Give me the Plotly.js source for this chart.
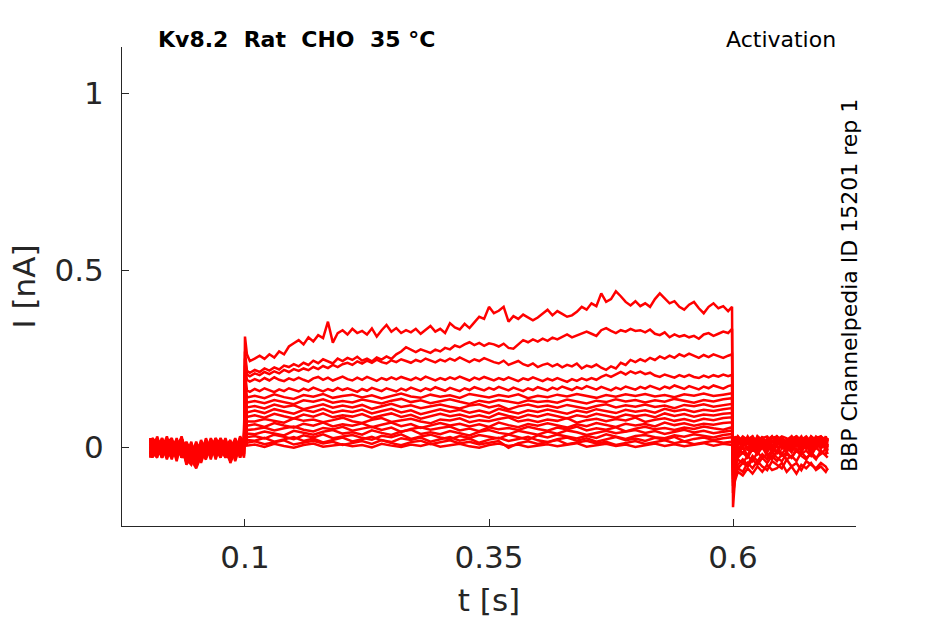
<!DOCTYPE html>
<html>
<head>
<meta charset="utf-8">
<script src="https://cdn.plot.ly/plotly-3.0.1.min.js"></script>
<style>
  body { margin: 0; background: #fff; }
  #chart { width: 945px; height: 624px; }
</style>
</head>
<body>
<div id="chart"></div>
<script>
// time points [s]: holding before the step, the step itself, and the tail after it
const tPre = [0.003, 0.005, 0.01, 0.015, 0.02, 0.025, 0.03, 0.035, 0.04, 0.045, 0.05,
  0.055, 0.06, 0.065, 0.07, 0.075, 0.08, 0.085, 0.09, 0.095, 0.099];
// the five largest sweeps are read at a finer spacing
const tStepFine = [0.1, 0.102,
  0.105, 0.11, 0.115, 0.12, 0.125, 0.13, 0.135, 0.14, 0.145, 0.15,
  0.155, 0.16, 0.165, 0.17, 0.175, 0.18, 0.185, 0.19, 0.195, 0.2,
  0.205, 0.21, 0.215, 0.22, 0.225, 0.23, 0.235, 0.24, 0.245, 0.25,
  0.255, 0.26, 0.265, 0.27, 0.275, 0.28, 0.285, 0.29, 0.295, 0.3,
  0.305, 0.31, 0.315, 0.32, 0.325, 0.33, 0.335, 0.34, 0.345, 0.35,
  0.355, 0.36, 0.365, 0.37, 0.375, 0.38, 0.385, 0.39, 0.395, 0.4,
  0.405, 0.41, 0.415, 0.42, 0.425, 0.43, 0.435, 0.44, 0.445, 0.45,
  0.455, 0.46, 0.465, 0.47, 0.475, 0.48, 0.485, 0.49, 0.495, 0.5,
  0.505, 0.51, 0.515, 0.52, 0.525, 0.53, 0.535, 0.54, 0.545, 0.55,
  0.555, 0.56, 0.565, 0.57, 0.575, 0.58, 0.585, 0.59, 0.595, 0.599];
const tStep = [0.1, 0.102,
  0.11, 0.12, 0.13, 0.14, 0.15, 0.16, 0.17, 0.18, 0.19, 0.2,
  0.21, 0.22, 0.23, 0.24, 0.25, 0.26, 0.27, 0.28, 0.29, 0.3,
  0.31, 0.32, 0.33, 0.34, 0.35, 0.36, 0.37, 0.38, 0.39, 0.4,
  0.41, 0.42, 0.43, 0.44, 0.45, 0.46, 0.47, 0.48, 0.49, 0.5,
  0.51, 0.52, 0.53, 0.54, 0.55, 0.56, 0.57, 0.58, 0.59, 0.599];
const tPost = [0.6, 0.602, 0.605, 0.61, 0.615, 0.62, 0.625, 0.63, 0.635, 0.64, 0.645,
  0.65, 0.655, 0.66, 0.665, 0.67, 0.675, 0.68, 0.685, 0.69, 0.695, 0.697];

// current [nA] before the step, one row per sweep
const iPre = [
  [0.02, -0.01, 0.025, -0.02, 0.015, -0.025, 0.02, -0.015, -0.03, 0.01, -0.02, 0.015, -0.025, 0.02, -0.01, 0.025, -0.02, 0.01, -0.03, 0.02, 0.005],
  [-0.015, 0.025, -0.02, 0.01, -0.03, 0.02, -0.01, 0.025, -0.02, -0.04, 0.005, -0.03, 0.015, -0.02, 0.025, -0.015, 0.02, -0.035, 0.015, -0.02, 0.01],
  [0.025, -0.025, 0.01, 0.02, -0.015, 0.005, -0.03, 0.015, -0.045, -0.01, -0.055, -0.02, 0.01, -0.03, 0.01, 0.02, -0.025, 0.005, 0.015, -0.03, 0.02],
  [-0.03, 0.015, -0.005, -0.025, 0.025, -0.01, 0.02, -0.03, 0.0, -0.025, 0.01, -0.015, -0.035, 0.015, -0.025, 0.005, 0.02, -0.045, -0.01, 0.025, -0.02],
  [0.01, -0.03, 0.02, -0.005, 0.03, -0.02, 0.005, 0.025, -0.025, 0.005, -0.03, 0.0, -0.02, 0.025, -0.005, -0.03, 0.015, -0.01, 0.025, -0.01, 0.015],
  [-0.005, 0.02, -0.025, 0.025, -0.01, -0.03, 0.01, -0.02, -0.035, -0.05, -0.015, -0.04, 0.005, -0.01, 0.02, -0.025, 0.0, 0.02, -0.03, 0.01, -0.005],
  [0.015, -0.02, 0.0, -0.03, 0.01, 0.025, -0.02, 0.005, -0.01, -0.035, -0.06, -0.025, -0.01, 0.02, -0.03, 0.01, -0.015, -0.03, 0.02, -0.025, 0.0],
  [-0.02, 0.005, 0.025, -0.01, -0.025, 0.015, -0.035, 0.02, 0.0, -0.02, 0.01, -0.045, 0.0, -0.025, 0.01, -0.01, 0.025, -0.02, 0.005, 0.015, -0.03],
  [0.025, -0.015, -0.03, 0.015, 0.0, -0.02, 0.025, -0.025, 0.01, -0.03, -0.005, 0.01, -0.03, -0.005, 0.02, -0.03, 0.01, -0.005, -0.025, 0.025, -0.01],
  [-0.025, 0.02, -0.01, 0.005, -0.035, 0.01, -0.005, -0.025, 0.015, -0.015, -0.035, 0.02, -0.015, 0.01, -0.025, 0.02, -0.03, 0.015, -0.005, -0.02, 0.02],
  [0.005, -0.03, 0.03, -0.015, 0.01, -0.03, 0.015, -0.01, -0.04, 0.0, -0.025, -0.01, 0.02, -0.02, 0.005, 0.015, -0.015, -0.04, 0.01, 0.0, -0.025],
  [-0.01, 0.01, -0.02, 0.02, -0.02, 0.005, -0.015, 0.03, -0.02, -0.03, 0.015, -0.02, -0.025, 0.005, -0.02, 0.025, -0.005, 0.015, -0.02, 0.03, 0.01],
  [0.0, -0.02, 0.015, -0.03, 0.02, -0.005, -0.025, 0.01, -0.05, -0.025, -0.04, 0.005, -0.03, 0.02, -0.01, -0.02, 0.02, -0.025, 0.0, -0.015, 0.025],
  [0.02, 0.0, -0.025, 0.01, 0.02, -0.015, 0.01, -0.03, 0.005, -0.02, 0.0, -0.035, 0.015, -0.005, 0.025, -0.02, -0.01, 0.01, -0.04, 0.005, -0.02],
  [-0.03, 0.015, 0.005, -0.02, -0.005, 0.02, -0.03, 0.0, -0.025, 0.015, -0.045, -0.005, -0.015, 0.01, -0.03, 0.015, 0.005, -0.03, 0.02, -0.01, 0.0],
  [0.01, -0.01, -0.025, 0.025, -0.02, 0.0, 0.02, -0.02, -0.01, -0.045, 0.005, -0.02, 0.01, -0.035, 0.025, -0.005, -0.03, 0.005, 0.015, -0.025, 0.025],
  [-0.02, 0.025, 0.01, -0.03, 0.005, -0.035, 0.015, -0.01, -0.03, 0.005, -0.02, -0.03, 0.025, -0.01, -0.02, 0.0, 0.015, -0.035, -0.015, 0.02, -0.015],
  [0.025, -0.025, 0.0, 0.015, -0.025, 0.01, -0.04, 0.025, -0.015, -0.03, -0.01, 0.005, -0.02, 0.015, -0.035, 0.02, -0.01, 0.0, 0.02, -0.03, 0.015]
];

// current [nA] during the step for the five largest sweeps (on tStepFine)
const iStepTop = [
  [0.312, 0.262,
   0.243, 0.25, 0.258, 0.249, 0.262, 0.253, 0.27, 0.262, 0.284, 0.293,
   0.302, 0.29, 0.31, 0.298, 0.316, 0.308, 0.354, 0.295, 0.322, 0.33,
   0.318, 0.334, 0.322, 0.328, 0.318, 0.335, 0.312, 0.33, 0.345, 0.326,
   0.336, 0.322, 0.33, 0.324, 0.334, 0.32, 0.332, 0.342, 0.326, 0.334,
   0.322, 0.35, 0.338, 0.332, 0.348, 0.336, 0.352, 0.368, 0.362, 0.396,
   0.378, 0.385, 0.396, 0.354, 0.37, 0.362, 0.374, 0.366, 0.358, 0.366,
   0.378, 0.388, 0.372, 0.384, 0.376, 0.368, 0.372, 0.382, 0.396, 0.388,
   0.406, 0.398, 0.434, 0.41, 0.418, 0.44, 0.426, 0.41, 0.4, 0.412,
   0.398, 0.406, 0.396, 0.418, 0.434, 0.42, 0.406, 0.412, 0.396, 0.388,
   0.402, 0.41, 0.392, 0.378, 0.396, 0.406, 0.392, 0.398, 0.384, 0.396],
  [0.27, 0.215,
   0.21, 0.218, 0.212, 0.222, 0.216, 0.225, 0.219, 0.23, 0.226, 0.234,
   0.228, 0.238, 0.232, 0.244, 0.237, 0.248, 0.241, 0.236, 0.25, 0.243,
   0.252, 0.246, 0.255, 0.244, 0.25, 0.242, 0.253, 0.247, 0.256, 0.249,
   0.262, 0.27, 0.282, 0.274, 0.268, 0.276, 0.27, 0.266, 0.275, 0.27,
   0.28, 0.276, 0.287, 0.282, 0.29, 0.296, 0.288, 0.294, 0.286, 0.293,
   0.29, 0.284, 0.292, 0.28, 0.278, 0.29, 0.302, 0.296, 0.304, 0.298,
   0.306, 0.3, 0.309, 0.304, 0.312, 0.318, 0.31, 0.316, 0.322, 0.326,
   0.32, 0.314, 0.33, 0.336, 0.328, 0.322, 0.33, 0.326, 0.334, 0.328,
   0.33, 0.324, 0.332, 0.32, 0.316, 0.324, 0.31, 0.318, 0.312, 0.316,
   0.31, 0.314, 0.306, 0.318, 0.322, 0.314, 0.32, 0.326, 0.322, 0.334],
  [0.25, 0.205,
   0.2, 0.208, 0.203, 0.212, 0.206, 0.214, 0.208, 0.218, 0.212, 0.22,
   0.215, 0.222, 0.217, 0.226, 0.22, 0.229, 0.223, 0.232, 0.226, 0.234,
   0.238, 0.232, 0.242, 0.236, 0.244, 0.238, 0.247, 0.24, 0.236, 0.245,
   0.24, 0.248, 0.243, 0.238, 0.246, 0.241, 0.25, 0.244, 0.239, 0.247,
   0.242, 0.25, 0.244, 0.253, 0.246, 0.24, 0.248, 0.243, 0.251, 0.245,
   0.24, 0.236, 0.244, 0.232, 0.238, 0.243, 0.234, 0.229, 0.236, 0.226,
   0.232, 0.236, 0.228, 0.234, 0.225, 0.232, 0.228, 0.236, 0.222, 0.23,
   0.226, 0.233, 0.224, 0.218, 0.228, 0.222, 0.238, 0.232, 0.246, 0.24,
   0.248, 0.242, 0.252, 0.246, 0.256, 0.25, 0.258, 0.252, 0.262, 0.256,
   0.264, 0.258, 0.252, 0.26, 0.254, 0.262, 0.256, 0.252, 0.258, 0.262],
  [0.23, 0.19,
   0.185, 0.192, 0.186, 0.195, 0.188, 0.197, 0.19, 0.186, 0.194, 0.189,
   0.196, 0.19, 0.185, 0.194, 0.198, 0.19, 0.196, 0.188, 0.193, 0.199,
   0.192, 0.188, 0.196, 0.19, 0.198, 0.193, 0.187, 0.195, 0.19, 0.197,
   0.191, 0.198, 0.193, 0.189, 0.196, 0.19, 0.199, 0.193, 0.188, 0.195,
   0.19, 0.197, 0.192, 0.199, 0.193, 0.188, 0.196, 0.191, 0.198, 0.193,
   0.188, 0.195, 0.19, 0.197, 0.192, 0.186, 0.194, 0.19, 0.197, 0.191,
   0.186, 0.193, 0.188, 0.195, 0.19, 0.184, 0.192, 0.187, 0.194, 0.189,
   0.195, 0.19, 0.198, 0.204, 0.198, 0.206, 0.212, 0.205, 0.214, 0.208,
   0.213, 0.206, 0.21, 0.202, 0.198, 0.205, 0.2, 0.196, 0.203, 0.198,
   0.204, 0.198, 0.195, 0.202, 0.197, 0.203, 0.199, 0.205, 0.2, 0.204],
  [0.21, 0.16,
   0.156, 0.164, 0.158, 0.166, 0.16, 0.155, 0.163, 0.158, 0.166, 0.161,
   0.157, 0.165, 0.16, 0.168, 0.162, 0.157, 0.164, 0.159, 0.167, 0.161,
   0.166, 0.16, 0.156, 0.164, 0.159, 0.167, 0.162, 0.158, 0.166, 0.161,
   0.157, 0.165, 0.16, 0.168, 0.163, 0.158, 0.166, 0.161, 0.169, 0.164,
   0.159, 0.167, 0.162, 0.158, 0.166, 0.161, 0.169, 0.164, 0.16, 0.167,
   0.162, 0.17, 0.165, 0.16, 0.168, 0.163, 0.158, 0.166, 0.161, 0.169,
   0.164, 0.16, 0.168, 0.163, 0.171, 0.166, 0.161, 0.169, 0.164, 0.172,
   0.166, 0.162, 0.17, 0.165, 0.16, 0.168, 0.163, 0.171, 0.166, 0.162,
   0.17, 0.165, 0.173, 0.168, 0.163, 0.171, 0.166, 0.174, 0.169, 0.164,
   0.172, 0.167, 0.163, 0.171, 0.166, 0.174, 0.169, 0.165, 0.172, 0.175]
];

// current [nA] during the step for the remaining sweeps (on tStep)
const iStepLow = [
  [0.19, 0.14,
   0.145, 0.138, 0.149, 0.141, 0.136, 0.147, 0.142, 0.15, 0.139, 0.144,
   0.148, 0.14, 0.146, 0.137, 0.145, 0.151, 0.143, 0.139, 0.148, 0.142,
   0.146, 0.139, 0.15, 0.144, 0.14, 0.147, 0.142, 0.149, 0.138, 0.145,
   0.141, 0.148, 0.143, 0.15, 0.145, 0.139, 0.147, 0.142, 0.149, 0.144,
   0.15, 0.143, 0.147, 0.141, 0.149, 0.145, 0.151, 0.144, 0.148, 0.152],
  [0.18, 0.126,
   0.13, 0.124, 0.133, 0.127, 0.121, 0.132, 0.128, 0.135, 0.125, 0.13,
   0.126, 0.134, 0.129, 0.123, 0.131, 0.136, 0.127, 0.132, 0.124, 0.129,
   0.135, 0.128, 0.122, 0.131, 0.126, 0.133, 0.129, 0.124, 0.132, 0.127,
   0.13, 0.125, 0.134, 0.128, 0.123, 0.131, 0.127, 0.135, 0.129, 0.133,
   0.126, 0.132, 0.128, 0.136, 0.13, 0.125, 0.133, 0.129, 0.135, 0.138],
  [0.17, 0.112,
   0.116, 0.109, 0.12, 0.113, 0.118, 0.107, 0.115, 0.121, 0.111, 0.117,
   0.112, 0.119, 0.108, 0.116, 0.122, 0.113, 0.118, 0.11, 0.115, 0.12,
   0.114, 0.109, 0.117, 0.121, 0.112, 0.118, 0.106, 0.115, 0.12, 0.113,
   0.117, 0.111, 0.119, 0.114, 0.108, 0.116, 0.121, 0.112, 0.118, 0.114,
   0.12, 0.113, 0.117, 0.11, 0.119, 0.115, 0.121, 0.114, 0.118, 0.122],
  [0.16, 0.098,
   0.103, 0.096, 0.107, 0.1, 0.094, 0.105, 0.099, 0.108, 0.097, 0.103,
   0.099, 0.106, 0.095, 0.102, 0.108, 0.098, 0.104, 0.093, 0.101, 0.107,
   0.1, 0.105, 0.097, 0.103, 0.096, 0.108, 0.101, 0.095, 0.104, 0.099,
   0.106, 0.1, 0.094, 0.103, 0.098, 0.107, 0.102, 0.096, 0.105, 0.1,
   0.104, 0.097, 0.108, 0.101, 0.106, 0.099, 0.105, 0.102, 0.107, 0.11],
  [0.15, 0.085,
   0.09, 0.083, 0.094, 0.087, 0.081, 0.092, 0.086, 0.095, 0.084, 0.09,
   0.086, 0.093, 0.082, 0.089, 0.095, 0.085, 0.091, 0.08, 0.088, 0.094,
   0.087, 0.092, 0.084, 0.09, 0.083, 0.095, 0.088, 0.082, 0.091, 0.086,
   0.093, 0.087, 0.081, 0.09, 0.085, 0.094, 0.089, 0.083, 0.092, 0.087,
   0.091, 0.084, 0.095, 0.088, 0.093, 0.086, 0.092, 0.089, 0.094, 0.096],
  [0.14, 0.072,
   0.072, 0.079, 0.075, 0.069, 0.081, 0.074, 0.078, 0.07, 0.076, 0.083,
   0.073, 0.068, 0.077, 0.082, 0.071, 0.076, 0.08, 0.072, 0.067, 0.078,
   0.075, 0.081, 0.07, 0.076, 0.073, 0.079, 0.084, 0.072, 0.077, 0.071,
   0.078, 0.074, 0.082, 0.069, 0.076, 0.08, 0.073, 0.079, 0.075, 0.083,
   0.071, 0.077, 0.081, 0.074, 0.079, 0.072, 0.08, 0.076, 0.082, 0.084],
  [0.13, 0.06,
   0.064, 0.057, 0.068, 0.061, 0.055, 0.066, 0.06, 0.069, 0.058, 0.064,
   0.06, 0.067, 0.056, 0.063, 0.069, 0.059, 0.065, 0.054, 0.062, 0.068,
   0.061, 0.066, 0.058, 0.064, 0.057, 0.069, 0.062, 0.056, 0.065, 0.06,
   0.067, 0.061, 0.055, 0.064, 0.059, 0.068, 0.063, 0.057, 0.066, 0.061,
   0.065, 0.058, 0.069, 0.062, 0.067, 0.06, 0.066, 0.063, 0.068, 0.07],
  [0.12, 0.048,
   0.05, 0.055, 0.047, 0.053, 0.058, 0.049, 0.044, 0.054, 0.05, 0.057,
   0.046, 0.052, 0.057, 0.048, 0.055, 0.043, 0.051, 0.056, 0.049, 0.054,
   0.058, 0.047, 0.052, 0.045, 0.056, 0.05, 0.054, 0.048, 0.057, 0.051,
   0.046, 0.055, 0.05, 0.058, 0.047, 0.053, 0.049, 0.056, 0.044, 0.052,
   0.057, 0.05, 0.054, 0.048, 0.055, 0.051, 0.058, 0.053, 0.049, 0.056],
  [0.11, 0.038,
   0.036, 0.044, 0.039, 0.033, 0.046, 0.041, 0.035, 0.043, 0.048, 0.038,
   0.042, 0.035, 0.047, 0.04, 0.034, 0.044, 0.049, 0.037, 0.042, 0.036,
   0.045, 0.039, 0.033, 0.043, 0.048, 0.04, 0.036, 0.046, 0.041, 0.035,
   0.044, 0.038, 0.047, 0.042, 0.034, 0.041, 0.046, 0.039, 0.043, 0.048,
   0.04, 0.045, 0.037, 0.043, 0.049, 0.041, 0.046, 0.039, 0.044, 0.047],
  [0.1, 0.028,
   0.031, 0.024, 0.035, 0.029, 0.022, 0.033, 0.027, 0.036, 0.025, 0.03,
   0.034, 0.026, 0.021, 0.032, 0.028, 0.036, 0.023, 0.03, 0.035, 0.027,
   0.022, 0.031, 0.026, 0.034, 0.029, 0.024, 0.035, 0.028, 0.021, 0.033,
   0.027, 0.035, 0.03, 0.024, 0.032, 0.026, 0.036, 0.029, 0.023, 0.031,
   0.034, 0.028, 0.025, 0.033, 0.029, 0.036, 0.031, 0.027, 0.034, 0.037],
  [0.09, 0.02,
   0.018, 0.026, 0.015, 0.022, 0.028, 0.017, 0.024, 0.013, 0.021, 0.027,
   0.016, 0.023, 0.029, 0.019, 0.014, 0.025, 0.02, 0.027, 0.015, 0.022,
   0.028, 0.018, 0.024, 0.012, 0.021, 0.026, 0.017, 0.023, 0.029, 0.019,
   0.014, 0.022, 0.027, 0.018, 0.025, 0.015, 0.021, 0.028, 0.019, 0.024,
   0.017, 0.026, 0.021, 0.029, 0.016, 0.023, 0.027, 0.02, 0.025, 0.028],
  [0.08, 0.012,
   0.016, 0.008, 0.014, 0.019, 0.007, 0.013, 0.018, 0.01, 0.015, 0.006,
   0.012, 0.017, 0.009, 0.02, 0.011, 0.005, 0.014, 0.018, 0.008, 0.013,
   0.019, 0.01, 0.015, 0.007, 0.012, 0.017, -0.002, 0.011, 0.016, 0.009,
   0.014, 0.02, 0.008, 0.013, 0.018, 0.01, 0.015, 0.006, 0.012, 0.017,
   0.009, 0.014, 0.019, 0.011, 0.016, 0.008, 0.013, 0.018, 0.012, 0.015],
  [0.07, 0.004,
   0.007, 0.0, 0.009, 0.003, -0.002, 0.006, 0.01, 0.001, 0.005, 0.008,
   0.002, 0.006, -0.001, 0.009, 0.004, 0.0, 0.007, 0.003, 0.01, 0.001,
   0.005, 0.009, 0.002, -0.002, 0.006, 0.01, 0.003, 0.007, 0.0, 0.004,
   0.008, 0.002, 0.006, 0.011, 0.001, 0.005, 0.009, 0.003, 0.007, 0.0,
   0.006, 0.01, 0.003, 0.008, 0.002, 0.007, 0.011, 0.004, 0.009, 0.006]
];

// current [nA] after the step (tail), one row per sweep
const iPost = [
  [-0.17, -0.09, -0.06, -0.045, -0.055, -0.035, -0.05, -0.03, -0.045, -0.025, -0.04, -0.02, -0.035, -0.025, -0.04, -0.015, -0.03, -0.02, -0.035, -0.01, -0.025, -0.03],
  [-0.13, -0.095, -0.07, -0.08, -0.06, -0.075, -0.055, -0.07, -0.05, -0.065, -0.06, -0.045, -0.07, -0.055, -0.075, -0.05, -0.06, -0.045, -0.065, -0.055, -0.07, -0.06],
  [-0.11, -0.08, -0.05, -0.035, -0.05, -0.025, -0.04, -0.02, -0.035, -0.015, -0.03, -0.04, -0.02, -0.03, -0.01, -0.025, -0.035, -0.015, -0.03, -0.02, -0.005, -0.02],
  [-0.1, -0.075, -0.06, -0.07, -0.045, -0.06, -0.04, -0.055, -0.065, -0.04, -0.05, -0.06, -0.035, -0.055, -0.045, -0.065, -0.04, -0.05, -0.06, -0.045, -0.055, -0.065],
  [-0.09, -0.06, -0.035, -0.045, -0.025, -0.04, -0.015, -0.03, -0.02, -0.035, -0.01, -0.025, -0.015, -0.03, -0.005, -0.02, -0.01, -0.025, 0.0, -0.015, -0.02, -0.005],
  [-0.08, -0.05, -0.03, -0.015, -0.03, -0.005, -0.02, 0.0, -0.025, -0.01, 0.005, -0.02, 0.0, -0.015, 0.01, -0.01, 0.005, -0.02, 0.01, -0.005, 0.015, 0.0],
  [-0.07, -0.045, -0.02, 0.0, -0.025, 0.01, -0.015, 0.02, -0.01, 0.005, -0.02, 0.015, -0.005, 0.02, -0.015, 0.01, 0.025, -0.01, 0.015, 0.0, 0.02, 0.01],
  [-0.06, -0.035, 0.0, -0.02, 0.015, -0.01, 0.02, -0.005, 0.025, 0.0, -0.015, 0.02, 0.005, -0.01, 0.025, 0.005, -0.005, 0.02, 0.0, 0.025, 0.01, -0.005],
  [-0.05, -0.03, 0.01, 0.025, -0.005, 0.02, 0.005, 0.03, -0.01, 0.015, 0.025, 0.0, 0.02, -0.005, 0.015, 0.03, 0.005, 0.02, -0.005, 0.025, 0.015, 0.0],
  [-0.045, -0.02, 0.02, 0.005, 0.03, 0.01, 0.025, 0.0, 0.02, 0.03, 0.005, 0.025, 0.015, 0.03, 0.0, 0.02, 0.01, 0.03, 0.015, 0.005, 0.025, 0.02],
  [-0.04, -0.005, 0.025, 0.01, 0.02, 0.03, 0.005, 0.025, 0.015, 0.0, 0.03, 0.02, 0.01, 0.025, 0.03, 0.005, 0.02, 0.01, 0.03, 0.02, 0.005, 0.025],
  [-0.035, 0.005, 0.03, 0.015, 0.025, 0.005, 0.03, 0.02, 0.01, 0.03, 0.015, 0.025, 0.0, 0.02, 0.03, 0.015, 0.025, 0.005, 0.02, 0.03, 0.01, 0.02],
  [-0.03, 0.0, -0.015, 0.02, -0.005, 0.01, -0.02, 0.015, 0.0, -0.01, 0.02, 0.005, -0.015, 0.01, 0.02, -0.005, 0.015, -0.02, 0.005, 0.02, -0.01, 0.01],
  [-0.025, 0.015, -0.005, 0.0, 0.02, -0.01, 0.025, 0.005, -0.015, 0.015, 0.025, -0.005, 0.01, 0.0, 0.02, -0.015, 0.01, 0.025, -0.005, 0.015, 0.0, 0.01],
  [-0.025, -0.015, 0.005, 0.02, -0.01, 0.01, 0.0, 0.025, 0.01, -0.005, 0.02, 0.015, -0.01, 0.025, 0.005, -0.005, 0.02, 0.0, 0.015, 0.025, -0.005, -0.01],
  [-0.02, 0.02, -0.025, 0.005, 0.015, 0.025, -0.01, 0.01, 0.02, -0.02, 0.005, 0.025, 0.01, -0.01, 0.02, 0.005, 0.025, -0.015, 0.01, 0.02, 0.0, 0.025],
  [-0.015, 0.025, 0.03, 0.01, 0.02, -0.005, 0.03, 0.015, 0.005, 0.025, 0.03, 0.0, 0.02, 0.03, 0.01, 0.025, 0.0, 0.03, 0.02, 0.005, 0.03, 0.015],
  [-0.01, 0.03, 0.015, 0.03, 0.02, 0.03, 0.01, 0.025, 0.03, 0.015, 0.02, 0.03, 0.025, 0.01, 0.03, 0.02, 0.03, 0.015, 0.025, 0.03, 0.02, 0.025]
];

const tickX = [0.1, 0.35, 0.6];
const tickY = [0, 0.5, 1];

const data = iPre.map(function (pre, k) {
  const top = k < iStepTop.length;
  const step = top ? iStepTop[k] : iStepLow[k - iStepTop.length];
  return {
    x: tPre.concat(top ? tStepFine : tStep, tPost),
    y: pre.concat(step, iPost[k]),
    type: 'scatter',
    mode: 'lines',
    line: { color: 'rgb(255,0,0)', width: 2.5 },
    hoverinfo: 'skip'
  };
});

const axisCol = '#262626';
const layout = {
  width: 945,
  height: 624,
  margin: { l: 122, r: 89, t: 47, b: 98 },
  paper_bgcolor: '#fff',
  plot_bgcolor: '#fff',
  showlegend: false,
  font: { family: 'DejaVu Sans', color: axisCol },
  xaxis: {
    range: [-0.026, 0.726],
    tickvals: tickX,
    ticktext: tickX.map(String),
    ticks: 'inside',
    ticklen: 7,
    tickcolor: axisCol,
    ticklabelstandoff: 4,
    showline: true,
    linecolor: axisCol,
    linewidth: 1,
    showgrid: false,
    zeroline: false,
    tickfont: { size: 31, color: axisCol },
    title: { text: 't [s]', font: { size: 31, color: axisCol }, standoff: 15 }
  },
  yaxis: {
    range: [-0.223, 1.13],
    tickvals: tickY,
    ticktext: tickY.map(String),
    ticks: 'inside',
    ticklen: 7,
    tickcolor: axisCol,
    ticklabelstandoff: 11,
    showline: true,
    linecolor: axisCol,
    linewidth: 1,
    showgrid: false,
    zeroline: false,
    tickfont: { size: 31, color: axisCol },
    title: { text: 'I [nA]', font: { size: 31, color: axisCol }, standoff: 9 }
  },
  annotations: [
    {
      text: '<b>Kv8.2\u00a0\u00a0Rat\u00a0\u00a0CHO\u00a0\u00a035\u00a0°C</b>',
      xref: 'paper', yref: 'paper', x: 0.047, y: 1.0167,
      xanchor: 'left', yanchor: 'middle', showarrow: false,
      font: { size: 22, color: '#000' }
    },
    {
      text: 'Activation',
      xref: 'paper', yref: 'paper', x: 0.9755, y: 1.0167,
      xanchor: 'right', yanchor: 'middle', showarrow: false,
      font: { size: 22, color: '#000' }
    },
    {
      text: 'BBP Channelpedia ID 15201 rep 1',
      xref: 'paper', yref: 'paper', x: 0.9905, y: 0.501,
      xanchor: 'center', yanchor: 'middle', textangle: -90, showarrow: false,
      font: { size: 22, color: '#000' }
    }
  ]
};

Plotly.newPlot('chart', data, layout, { displayModeBar: false, staticPlot: true });
</script>
</body>
</html>
